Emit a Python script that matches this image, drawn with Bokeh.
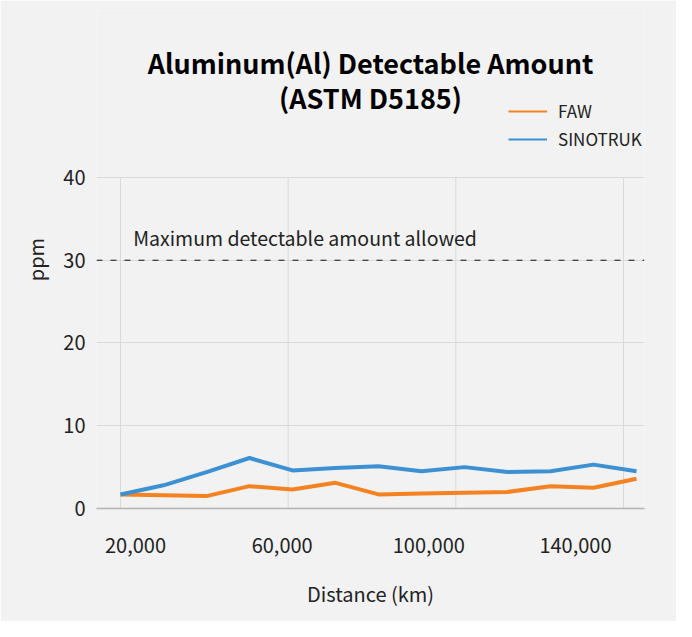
from bokeh.plotting import figure
from bokeh.models import (Range1d, LinearAxis, FixedTicker, NumeralTickFormatter,
                          Span, Label, Legend, LegendItem)
from bokeh.embed import file_html
from bokeh.resources import INLINE

# ---- data ----
distance_km = [20000, 30000, 40000, 50000, 60000, 70000, 80000, 90000,
               100000, 110000, 120000, 130000, 140000]
faw = [1.7, 1.6, 1.5, 2.7, 2.3, 3.1, 1.7, 1.8, 1.9, 2.0, 2.7, 2.5, 3.6]
sinotruk = [1.7, 2.8, 4.4, 6.1, 4.6, 4.9, 5.1, 4.5, 5.0, 4.4, 4.5, 5.3, 4.5]
x_ticks = [20000, 60000, 100000, 140000]
y_ticks = [0, 10, 20, 30, 40]
max_allowed = 30
title_lines = ["Aluminum(Al) Detectable Amount", "(ASTM D5185)"]

FONT = "Noto Sans CJK KR"
BG = "#f2f2f2"
ORANGE = "#f58220"
BLUE = "#3d91d3"
GRID = "#d9d9d9"

X0, X1 = 14419, 141861
p = figure(width=676, height=621, output_backend="svg", toolbar_location=None,
           x_axis_type=None, y_range=Range1d(0, 60.18),
           x_range=Range1d(X0, X1),
           min_border_left=96, min_border_right=32, min_border_top=10, min_border_bottom=113)
p.title = None
p.background_fill_color = BG
p.border_fill_color = BG
p.outline_line_color = None

p.extra_x_ranges = {"grid": Range1d(14274, 145009), "lab": Range1d(9364, 158818)}

# vertical grid lines, spanning the value range of the y ticks
n = len(x_ticks)
p.segment(x0=x_ticks, y0=[y_ticks[0]] * n, x1=x_ticks, y1=[y_ticks[-1]] * n,
          x_range_name="grid", line_color=GRID, line_width=1)

# x axis (labels)
xax = LinearAxis(x_range_name="lab", ticker=FixedTicker(ticks=x_ticks),
                 formatter=NumeralTickFormatter(format="0,0"),
                 axis_label="Distance (km)")
xax.major_tick_line_color = None
xax.minor_tick_line_color = None
xax.axis_line_color = "#b5b5b5"
xax.axis_line_width = 1.5
xax.major_label_text_font = FONT
xax.major_label_text_font_size = "20px"
xax.major_label_text_color = "#222222"
xax.major_label_standoff = 23
xax.axis_label_text_font = FONT
xax.axis_label_text_font_size = "20px"
xax.axis_label_text_font_style = "normal"
xax.axis_label_text_color = "#222222"
xax.axis_label_standoff = 23
p.add_layout(xax, "below")

# y axis
yax = p.yaxis[0]
yax.ticker = FixedTicker(ticks=y_ticks)
yax.axis_line_color = None
yax.major_tick_line_color = None
yax.minor_tick_line_color = None
yax.major_label_text_font = FONT
yax.major_label_text_font_size = "20px"
yax.major_label_text_color = "#222222"
yax.major_label_standoff = 5
yax.axis_label = "ppm"
yax.axis_label_text_font = FONT
yax.axis_label_text_font_size = "20px"
yax.axis_label_text_font_style = "normal"
yax.axis_label_text_color = "#222222"
yax.axis_label_standoff = 10
p.ygrid.ticker = FixedTicker(ticks=y_ticks)
p.ygrid.grid_line_color = GRID

# max allowed dashed line
p.add_layout(Span(location=max_allowed, dimension="width", line_color="#111111",
                  line_width=1, line_dash="6 8"))
p.add_layout(Label(x=22954, y=32.7, text="Maximum detectable amount allowed",
                   text_baseline="middle", text_font=FONT, text_font_size="19.5px",
                   text_color="#222222"))

# data lines
p.line(distance_km, faw, line_color=ORANGE, line_width=4)
p.line(distance_km, sinotruk, line_color=BLUE, line_width=4)

# legend sample lines (thinner than the plotted lines); single-point lines draw nothing
lf = p.line(distance_km[:1], faw[:1], line_color=ORANGE, line_width=2)
ls = p.line(distance_km[:1], sinotruk[:1], line_color=BLUE, line_width=2)
legend = Legend(items=[LegendItem(label="FAW", renderers=[lf]),
                       LegendItem(label="SINOTRUK", renderers=[ls])],
                location=(412, 357), background_fill_alpha=0, border_line_color=None,
                padding=0, margin=0, spacing=3, glyph_width=39, glyph_height=20,
                label_height=20, label_standoff=11, label_text_font=FONT,
                label_text_font_size="17px", label_text_color="#222222")
p.add_layout(legend, "center")

# two-line title, centred over the plot frame
xc = (X0 + X1) / 2
for txt, yy in zip(title_lines, [53.95, 49.65]):
    p.add_layout(Label(x=xc, y=yy, text=txt, text_align="center", text_baseline="middle",
                       text_font=FONT, text_font_size="27px", text_font_style="bold",
                       text_color="#000000"))

open("out.html", "w").write(file_html(p, INLINE))
